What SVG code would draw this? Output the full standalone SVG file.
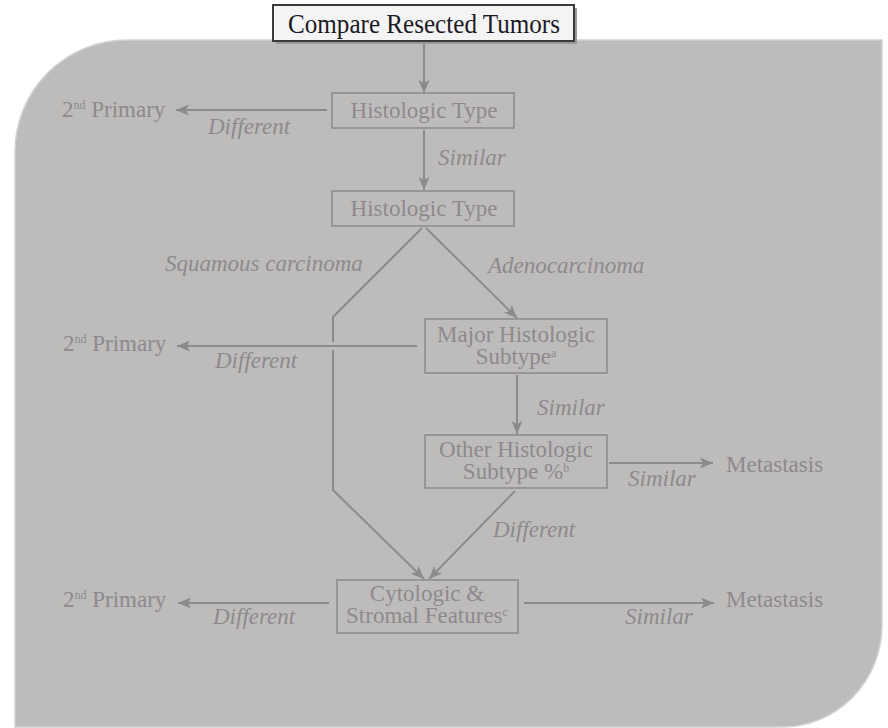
<svg xmlns="http://www.w3.org/2000/svg" width="888" height="728" viewBox="0 0 888 728">
  <style>
    .bg { fill: #bebcbb; stroke: #d3d2d1; stroke-width: 1.5; }
    .box { fill: none; stroke: #8e8c8d; stroke-width: 1.6; }
    .lbl { font-family: "Liberation Serif", "Times New Roman", serif; font-size: 23px; fill: #8d898d; }
    .mid { text-anchor: middle; }
    .it { font-style: italic; }
    .sup { font-size: 12px; }
    .wire { fill: none; stroke: #8c8b8b; stroke-width: 2; }
    .arrow { marker-end: url(#head); }
    .title { font-family: "Liberation Serif", "Times New Roman", serif; font-size: 27px; fill: #1a1a24; text-anchor: middle; }
  </style>
  <defs>
    <marker id="head" viewBox="0 0 13 11" refX="13" refY="5.5" markerUnits="userSpaceOnUse" markerWidth="13" markerHeight="11" orient="auto">
      <path d="M0,0 L13,5.5 L0,11 L3,5.5 z" fill="#8c8b8b"/>
    </marker>
  </defs>

  <!-- panel behind the flow -->
  <path class="bg" d="M15,727 V152 A112,112 0 0 1 127,40 H882 V625 A100,102 0 0 1 782,727 Z"/>

  <!-- connectors -->
  <g id="connectors">
    <path class="wire arrow" d="M424,44 V93"/>
    <path class="wire arrow" d="M424,130 V190"/>
    <path class="wire arrow" d="M327,110 H176"/>
    <path class="wire arrow" d="M426,228 L517,318"/>
    <path class="wire" d="M422,228 L333,317 V342"/>
    <path class="wire arrow" d="M333,350 V490 L424,579"/>
    <path class="wire arrow" d="M417,346 H177"/>
    <path class="wire arrow" d="M517,375 V434"/>
    <path class="wire arrow" d="M609,463 H713"/>
    <path class="wire arrow" d="M515,491 L429,579"/>
    <path class="wire arrow" d="M329,603 H178"/>
    <path class="wire arrow" d="M524,603 H714"/>
  </g>

  <!-- edge labels -->
  <g id="edge-labels">
    <text class="lbl it" x="208" y="134">Different</text>
    <text class="lbl it" x="438" y="165">Similar</text>
    <text class="lbl it" x="165" y="271">Squamous carcinoma</text>
    <text class="lbl it" x="488" y="273">Adenocarcinoma</text>
    <text class="lbl it" x="215" y="368">Different</text>
    <text class="lbl it" x="537" y="415">Similar</text>
    <text class="lbl it" x="628" y="486">Similar</text>
    <text class="lbl it" x="493" y="537">Different</text>
    <text class="lbl it" x="213" y="624">Different</text>
    <text class="lbl it" x="625" y="624">Similar</text>
  </g>

  <g id="start">
    <rect x="276" y="8" width="301" height="36" fill="#9a9999"/>
    <rect x="273" y="5" width="301" height="36" fill="#f4f4f4" stroke="#3a3a3e" stroke-width="2"/>
    <text class="title" x="424" y="33" textLength="272" lengthAdjust="spacingAndGlyphs">Compare Resected Tumors</text>
  </g>

  <g id="histologic-type-1">
    <rect class="box" x="332" y="93" width="182" height="35"/>
    <text class="lbl mid" x="424" y="118">Histologic Type</text>
  </g>

  <g id="histologic-type-2">
    <rect class="box" x="332" y="191" width="182" height="35"/>
    <text class="lbl mid" x="424" y="216">Histologic Type</text>
  </g>

  <g id="major-subtype">
    <rect class="box" x="425" y="319" width="182" height="54"/>
    <text class="lbl mid" x="516" y="342">Major Histologic</text>
    <text class="lbl mid" x="516" y="364">Subtype<tspan class="sup" dy="-7">a</tspan></text>
  </g>

  <g id="other-subtype">
    <rect class="box" x="425" y="435" width="182" height="53"/>
    <text class="lbl mid" x="516" y="457">Other Histologic</text>
    <text class="lbl mid" x="516" y="479">Subtype %<tspan class="sup" dy="-7">b</tspan></text>
  </g>

  <g id="cytologic-stromal">
    <rect class="box" x="337" y="580" width="181" height="53"/>
    <text class="lbl mid" x="427" y="601">Cytologic &amp;</text>
    <text class="lbl mid" x="427" y="623">Stromal Features<tspan class="sup" dy="-7">c</tspan></text>
  </g>

  <g id="second-primary-1">
    <text class="lbl" x="62" y="117">2<tspan class="sup" dy="-8">nd</tspan><tspan dy="8"> Primary</tspan></text>
  </g>
  <g id="second-primary-2">
    <text class="lbl" x="63" y="351">2<tspan class="sup" dy="-8">nd</tspan><tspan dy="8"> Primary</tspan></text>
  </g>
  <g id="second-primary-3">
    <text class="lbl" x="63" y="607">2<tspan class="sup" dy="-8">nd</tspan><tspan dy="8"> Primary</tspan></text>
  </g>

  <g id="metastasis-1">
    <text class="lbl" x="726" y="472">Metastasis</text>
  </g>
  <g id="metastasis-2">
    <text class="lbl" x="726" y="607">Metastasis</text>
  </g>
</svg>
